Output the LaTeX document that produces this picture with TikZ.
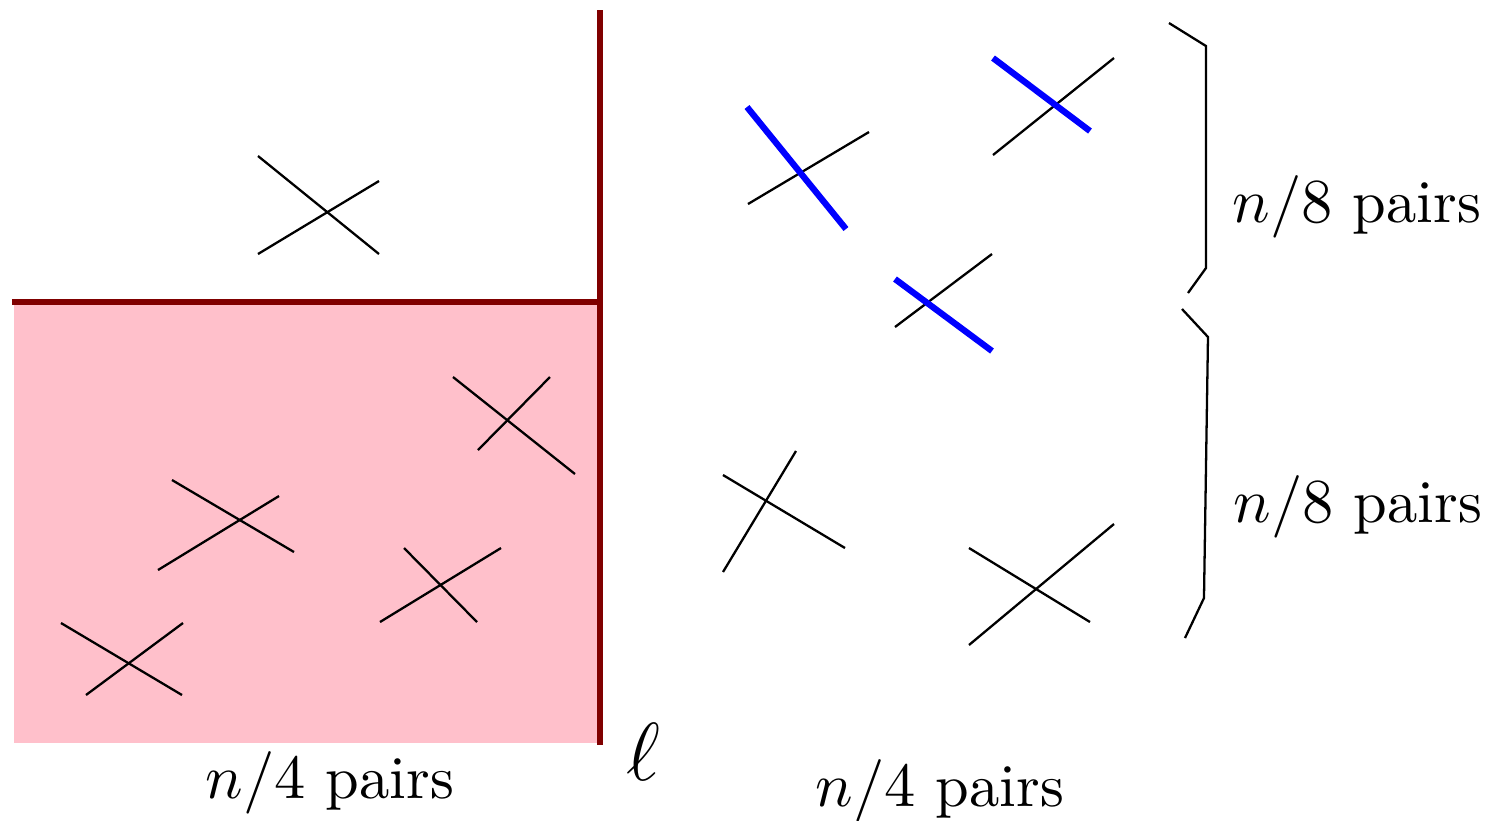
\documentclass[tikz,border=0pt]{standalone}
\definecolor{pinkfill}{RGB}{255,192,203}
\definecolor{darkredline}{RGB}{128,0,0}
\begin{document}
\begin{tikzpicture}[x=0.175pt,y=-0.175pt,
  seg/.style={black,line width=0.4pt},
  blueseg/.style={blue,line width=1.1pt},
  wall/.style={darkredline,line width=1.1pt},
  lbl/.style={inner sep=0pt,font=\fontsize{10.6}{13}\selectfont}]
\useasboundingbox (0,0) rectangle (1496,820);
% region
\fill[pinkfill] (14,302) rectangle (600,743);
\draw[wall] (12,302) -- (600,302);
\draw[wall] (600,10) -- (600,745);
% left crosses
\draw[seg] (258,156) -- (379,254);
\draw[seg] (258,254) -- (379,181);
\draw[seg] (453,377) -- (575,474);
\draw[seg] (478,450) -- (550,377);
\draw[seg] (172,480) -- (294,552);
\draw[seg] (158,570) -- (279,496);
\draw[seg] (404,548) -- (477,622);
\draw[seg] (380,622) -- (501,548);
\draw[seg] (61,623) -- (182,695);
\draw[seg] (86,695) -- (183,623);
% right crosses
\draw[seg] (748,204) -- (869,132);
\draw[blueseg] (747,107) -- (846,229);
\draw[seg] (993,155) -- (1114,58);
\draw[blueseg] (993,58) -- (1090,131);
\draw[seg] (895,327) -- (992,254);
\draw[blueseg] (895,279) -- (992,351);
\draw[seg] (723,475) -- (845,548);
\draw[seg] (723,572) -- (796,451);
\draw[seg] (969,548) -- (1090,622);
\draw[seg] (969,645) -- (1114,524);
% braces
\draw[seg] (1169,23) -- (1206,46) -- (1206,268) -- (1188,293);
\draw[seg] (1182,309) -- (1208,337) -- (1204,598) -- (1185,638);
% labels
\node[lbl] (l1) at (1357,207) {$n/8$ pairs};
\node[lbl] (l2) at (1358,507) {$n/8$ pairs};
\node[lbl] (l3) at (330,783) {$n/4$ pairs};
\node[lbl] (l4) at (940,791) {$n/4$ pairs};
\node[inner sep=0pt,font=\Large] (ell) at (643,752) {$\ell$};
\end{tikzpicture}
\end{document}
